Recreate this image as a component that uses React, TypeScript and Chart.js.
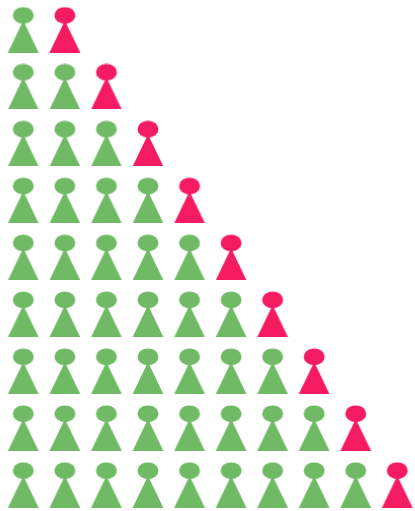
import React, { useEffect, useRef } from "react";
import { Chart, registerables } from "chart.js";

Chart.register(...registerables);

const rowLabels = ["1", "2", "3", "4", "5", "6", "7", "8", "9"];
const greenCounts = [1, 2, 3, 4, 5, 6, 7, 8, 9];
const redCounts = [1, 1, 1, 1, 1, 1, 1, 1, 1];
const GREEN = "#70ba66";
const RED = "#f41b60";

function person(color: string) {
  const c = document.createElement("canvas");
  c.width = 32;
  c.height = 46;
  const g = c.getContext("2d")!;
  g.fillStyle = color;
  g.beginPath();
  g.ellipse(16, 8.8, 10.5, 8.4, 0, 0, Math.PI * 2);
  g.fill();
  g.beginPath();
  g.moveTo(16, 14);
  g.lineTo(31.4, 46);
  g.lineTo(0.6, 46);
  g.closePath();
  g.fill();
  return c;
}

function icons(counts: number[], start: (row: number) => number) {
  const pts: { x: number; y: number }[] = [];
  counts.forEach((n, row) => {
    for (let k = 0; k < n; k++) pts.push({ x: start(row) + k, y: row });
  });
  return pts;
}

export default function App() {
  const ref = useRef<HTMLCanvasElement>(null);
  useEffect(() => {
    document.body.style.margin = "0";
    const chart = new Chart(ref.current!, {
      type: "scatter",
      data: {
        labels: rowLabels,
        datasets: [
          {
            data: icons(greenCounts, () => 0),
            pointStyle: person(GREEN) as any,
            backgroundColor: GREEN,
            clip: false,
          },
          {
            data: icons(redCounts, (row) => greenCounts[row]),
            pointStyle: person(RED) as any,
            backgroundColor: RED,
            clip: false,
          },
        ],
      },
      options: {
        animation: false,
        responsive: false,
        layout: { padding: 0, autoPadding: false },
        plugins: { legend: { display: false }, tooltip: { enabled: false } },
        scales: {
          x: { display: false, min: -0.56, max: 9.426 },
          y: { display: false, reverse: true, min: -0.52, max: 8.46 },
        },
      },
    });
    return () => chart.destroy();
  }, []);
  return <canvas ref={ref} width={415} height={511} style={{ display: "block" }} />;
}
